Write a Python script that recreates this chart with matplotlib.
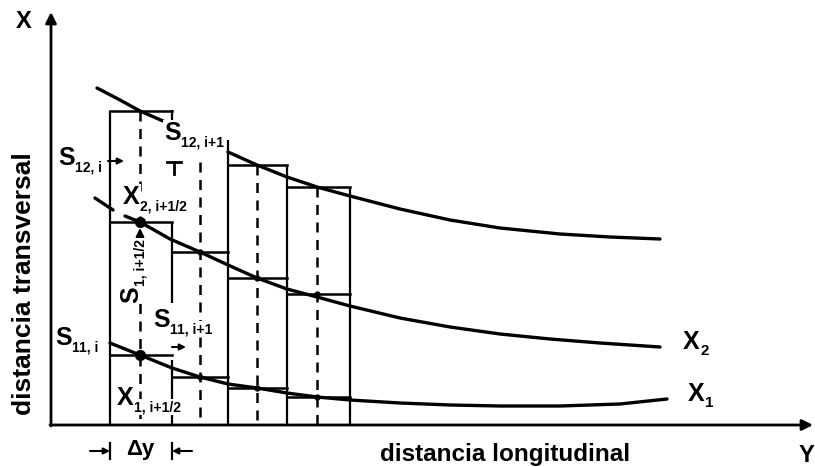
import matplotlib
matplotlib.use("Agg")
import matplotlib.pyplot as plt

plt.rcParams['font.family'] = ['Liberation Sans', 'DejaVu Sans']

# Curves (picture coordinates, y grows downwards)
upper_x1 = [97, 120, 140, 170]
upper_y1 = [88, 100, 111, 124]
upper_x2 = [228, 257, 287, 317, 350, 400, 450, 500, 560, 610, 660]
upper_y2 = [152, 165, 177, 187, 196, 209, 220, 228, 234, 237, 239]

mid_stub_x = [95, 113]
mid_stub_y = [198, 210]
mid_x = [125, 140, 170, 200, 228, 257, 287, 317, 350, 400, 450, 500, 550, 600, 660]
mid_y = [216, 222, 239, 252, 265, 278, 289, 297, 306, 318, 327, 334, 339, 343, 347]

low_x = [110, 140, 172, 200, 228, 257, 287, 317, 350, 400, 450, 500, 560, 620, 667]
low_y = [343, 355, 368, 377, 384, 388, 393, 397, 400, 403, 405, 406, 406, 404, 399]

# Cells
col_edges = [110, 172, 228, 287, 350]
col_centers = [140, 200, 257, 317]
upper_tops = [111, None, 165, 187]
mid_tops = [222, 252, 278, 294]
low_tops = [355, 377, 388, 397]
dash_tops = [111, 162, 165, 187]

# vertical cell borders: (x, y_top, y_bottom)
edge_segments = [(110, 111, 425), (172, 110, 123), (172, 222, 303), (172, 360, 425),
                 (228, 140, 425), (287, 165, 425), (350, 187, 425)]

AXIS_Y = 425
AXIS_X = 51

fig = plt.figure(figsize=(8.15, 4.67), dpi=100)
ax = fig.add_axes([0, 0, 1, 1])
ax.set_xlim(0, 815)
ax.set_ylim(467, 0)
ax.axis('off')

# axes with arrows
ax.annotate('', xy=(AXIS_X, 12), xytext=(AXIS_X, AXIS_Y + 1),
            arrowprops=dict(arrowstyle='-|>', lw=2, color='k', mutation_scale=16, shrinkA=0, shrinkB=0))
ax.annotate('', xy=(813, AXIS_Y), xytext=(AXIS_X - 1, AXIS_Y),
            arrowprops=dict(arrowstyle='-|>', lw=2, color='k', mutation_scale=16, shrinkA=0, shrinkB=0))

# cells
for x, y0, y1 in edge_segments:
    ax.plot([x, x], [y0, y1], color='k', lw=1.6, solid_capstyle='butt')
for i in range(len(col_centers)):
    x0, x1 = col_edges[i], col_edges[i + 1]
    for tops in (upper_tops, mid_tops, low_tops):
        if tops[i] is not None:
            ax.plot([x0, x1], [tops[i], tops[i]], color='k', lw=1.8)
    ax.plot([col_centers[i], col_centers[i]], [dash_tops[i], AXIS_Y], color='k', lw=1.8,
            linestyle=(0, (4, 3)))

# curves
for xs, ys in ((upper_x1, upper_y1), (upper_x2, upper_y2), (mid_stub_x, mid_stub_y),
               (mid_x, mid_y), (low_x, low_y)):
    ax.plot(xs, ys, color='k', lw=2.4, solid_capstyle='round')

# points on the curves
ax.plot(col_centers[:1] * 2, [mid_tops[0], low_tops[0]], 'o', color='k', ms=7)
ax.plot(col_centers[1:], mid_tops[1:], 'o', color='k', ms=3.5)
ax.plot(col_centers[1:], low_tops[1:], 'o', color='k', ms=3.5)

# small arrows
small = dict(arrowstyle='-|>', lw=1.5, color='k', mutation_scale=9, shrinkA=0, shrinkB=0)
ax.annotate('', xy=(124, 161), xytext=(108, 161), arrowprops=small)
ax.annotate('', xy=(186, 347), xytext=(172, 347), arrowprops=small)
ax.annotate('', xy=(140, 228), xytext=(140, 250), arrowprops=dict(small, mutation_scale=12))
ax.plot([167, 181], [162, 162], color='k', lw=2)
ax.plot([174, 174], [162, 174], color='k', lw=2)

# delta y bracket
ax.annotate('', xy=(110, 451), xytext=(90, 451), arrowprops=small)
ax.annotate('', xy=(172, 451), xytext=(192, 451), arrowprops=small)
ax.plot([110, 110], [443, 459], color='k', lw=1.6)
ax.plot([172, 172], [443, 459], color='k', lw=1.6)
ax.text(140, 450, 'Δy', fontsize=16, fontweight='bold', ha='center', va='center')

bb = dict(facecolor='white', edgecolor='none', boxstyle='square,pad=0.05')


def sub_label(x, y, main, sub, size=18, subsize=10, rot=0):
    if rot == 0:
        t = ax.text(x, y, main, fontsize=size, fontweight='bold', ha='left', va='center', bbox=bb)
        ax.annotate(sub, xy=(1, 0), xycoords=t, xytext=(0.5, -3), textcoords='offset points',
                    fontsize=subsize, fontweight='bold', ha='left', va='bottom', bbox=bb)
    else:
        t = ax.text(x, y, main, fontsize=size, fontweight='bold', rotation=90,
                    ha='center', va='bottom', bbox=bb)
        ax.annotate(sub, xy=(1, 1), xycoords=t, xytext=(3, 0.5), textcoords='offset points',
                    fontsize=subsize, fontweight='bold', rotation=90, ha='right', va='bottom', bbox=bb)


sub_label(58, 158, 'S', '12, i')
sub_label(164, 133, 'S', '12, i+1')
sub_label(123, 197, 'X', '2, i+1/2')
sub_label(117, 398, 'X', '1, i+1/2')
sub_label(55, 338, 'S', '11, i')
sub_label(153, 320, 'S', '11, i+1')
sub_label(131, 303, 'S', '1, i+1/2', rot=90)
sub_label(683, 342, 'X', '2', subsize=11)
sub_label(688, 394, 'X', '1', subsize=11)

# axis titles
ax.text(24, 21, 'X', fontsize=17, fontweight='bold', ha='center', va='center')
ax.text(806, 456, 'Y', fontsize=17, fontweight='bold', ha='center', va='center')
ax.text(505, 454, 'distancia longitudinal', fontsize=17.5, fontweight='bold', ha='center', va='center')
ax.text(24, 284, 'distancia transversal', fontsize=19, fontweight='bold', rotation=90,
        ha='center', va='center')

fig.savefig('out.png', dpi=100, facecolor='white')
